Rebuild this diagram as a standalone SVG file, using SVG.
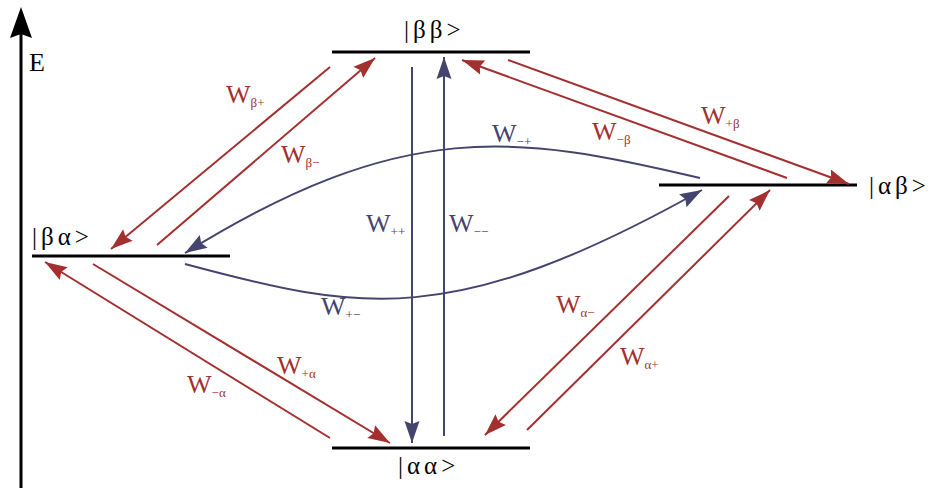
<svg xmlns="http://www.w3.org/2000/svg" width="932" height="488" viewBox="0 0 932 488">
<defs>
<style>
.lvl{stroke:#000;stroke-width:3;fill:none}
.r{stroke:#a3302e;stroke-width:2;fill:none}
.b{stroke:#45446f;stroke-width:2;fill:none}
.st{font-family:"Liberation Serif",serif;font-size:25px;fill:#000;letter-spacing:4px}
.lr{font-family:"Liberation Serif",serif;font-size:26px;fill:#a3302e}
.lb{font-family:"Liberation Serif",serif;font-size:26px;fill:#45446f}
.sub{font-size:13px}
</style>
<marker id="ar" markerUnits="userSpaceOnUse" markerWidth="24" markerHeight="16" refX="22" refY="7.5" orient="auto" overflow="visible">
<path d="M0,0 L22,7.5 L0,15 L3,7.5 z" fill="#a3302e"/>
</marker>
<marker id="ab" markerUnits="userSpaceOnUse" markerWidth="24" markerHeight="16" refX="22" refY="7.5" orient="auto" overflow="visible">
<path d="M0,0 L22,7.5 L0,15 L3,7.5 z" fill="#45446f"/>
</marker>
</defs>
<rect width="932" height="488" fill="#fff"/>
<g id="axis">
<line x1="21" y1="488" x2="21" y2="30" stroke="#000" stroke-width="3"/>
<path d="M21,7 L32,38 L21,34 L10,38 z" fill="#000"/>
<text x="29" y="71" font-family="Liberation Serif,serif" font-size="26" fill="#000">E</text>
</g>
<g id="node-bb">
<line class="lvl" x1="332" y1="52" x2="530" y2="52"/>
<text class="st" x="404" y="38">|ββ&gt;</text>
</g>
<g id="node-ab">
<line class="lvl" x1="659" y1="185" x2="857" y2="185"/>
<text class="st" x="869" y="194">|αβ&gt;</text>
</g>
<g id="node-ba">
<line class="lvl" x1="32" y1="256" x2="230" y2="256"/>
<text class="st" x="32" y="245">|βα&gt;</text>
</g>
<g id="node-aa">
<line class="lvl" x1="332" y1="448" x2="530" y2="448"/>
<text class="st" x="398" y="474">|αα&gt;</text>
</g>
<g id="connectors">
<line class="r" x1="330" y1="67" x2="111" y2="249" marker-end="url(#ar)"/>
<line class="r" x1="157" y1="245" x2="375" y2="58" marker-end="url(#ar)"/>
<line class="r" x1="787" y1="178" x2="462" y2="60" marker-end="url(#ar)"/>
<line class="r" x1="508" y1="60" x2="849" y2="184" marker-end="url(#ar)"/>
<line class="r" x1="729" y1="196" x2="485" y2="435" marker-end="url(#ar)"/>
<line class="r" x1="527" y1="430" x2="770" y2="190" marker-end="url(#ar)"/>
<line class="r" x1="330" y1="438" x2="45" y2="262" marker-end="url(#ar)"/>
<line class="r" x1="93" y1="264" x2="390" y2="443" marker-end="url(#ar)"/>
<line class="b" x1="412" y1="67" x2="412" y2="443" marker-end="url(#ab)"/>
<line class="b" x1="444" y1="436" x2="444" y2="57" marker-end="url(#ab)"/>
<path class="b" d="M700,178 C515,134 403,118 185,253" marker-end="url(#ab)"/>
<path class="b" d="M185,264 C360,311 452,330 702,190" marker-end="url(#ab)"/>
</g>
<g id="labels">
<text class="lr" x="226" y="103">W<tspan class="sub" dy="4">β+</tspan></text>
<text class="lr" x="281" y="163">W<tspan class="sub" dy="4">β−</tspan></text>
<text class="lb" x="492" y="142">W<tspan class="sub" dy="4">−+</tspan></text>
<text class="lr" x="592" y="140">W<tspan class="sub" dy="4">−β</tspan></text>
<text class="lr" x="701" y="124">W<tspan class="sub" dy="4">+β</tspan></text>
<text class="lb" x="366" y="232">W<tspan class="sub" dy="4">++</tspan></text>
<text class="lb" x="449" y="232">W<tspan class="sub" dy="4">−−</tspan></text>
<text class="lb" x="321" y="315">W<tspan class="sub" dy="4">+−</tspan></text>
<text class="lr" x="556" y="313">W<tspan class="sub" dy="4">α−</tspan></text>
<text class="lr" x="620" y="365">W<tspan class="sub" dy="4">α+</tspan></text>
<text class="lr" x="277" y="374">W<tspan class="sub" dy="4">+α</tspan></text>
<text class="lr" x="187" y="393">W<tspan class="sub" dy="4">−α</tspan></text>
</g>
</svg>
